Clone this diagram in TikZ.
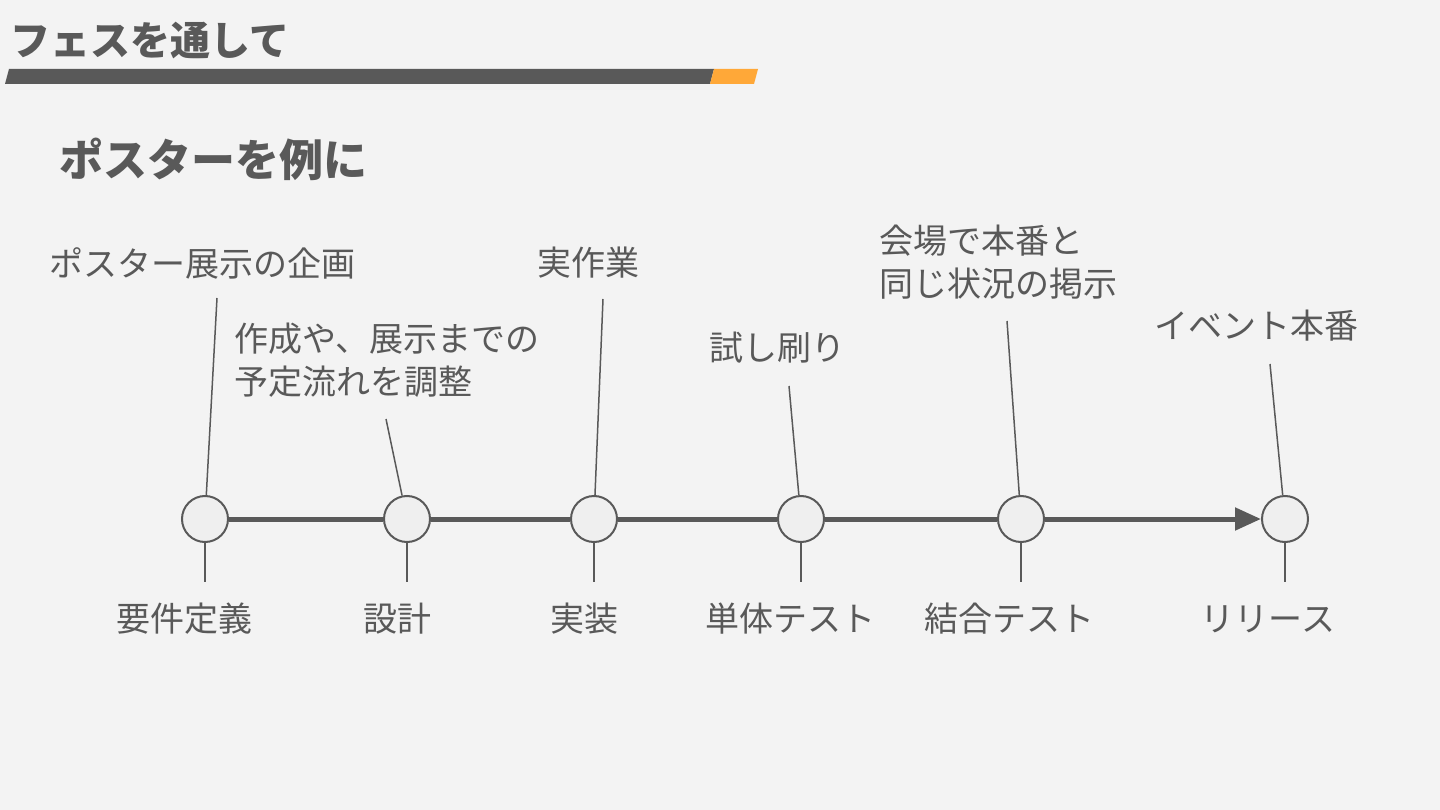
\documentclass[tikz,border=0pt]{standalone}
\usepackage{fontspec}
\setmainfont{Noto Sans CJK JP}
\usetikzlibrary{arrows.meta}
\definecolor{bg}{HTML}{F3F3F3}
\definecolor{ink}{HTML}{595959}
\definecolor{orng}{HTML}{FFA838}
\definecolor{cfill}{HTML}{EFEFEF}
\begin{document}
\begin{tikzpicture}[x=1pt,y=-1pt,
  dot/.style={circle,draw=ink,fill=cfill,line width=2pt,minimum size=46pt,inner sep=0pt},
  lbl/.style={text=ink,font=\fontsize{34}{43}\selectfont,inner sep=0pt,align=left},
  tick/.style={draw=ink,line width=1.5pt},
  axis/.style={draw=ink,line width=5pt}]
\fill[bg] (0,0) rectangle (1440,810);
\useasboundingbox (0,0) rectangle (1440,810);
% header bar
\fill[ink] (9,69) -- (714,69) -- (710,84) -- (5,84) -- cycle;
\fill[orng] (714,69) -- (758,69) -- (754,84) -- (710,84) -- cycle;
\node[text=ink,font=\fontsize{40}{44}\selectfont\bfseries,anchor=west,inner sep=0pt] (title) at (10,41) {フェスを通して};
\node[text=ink,font=\fontsize{44}{48}\selectfont\bfseries,anchor=west,inner sep=0pt] (sub) at (59,159) {ポスターを例に};
% circles
\node[dot] (c1) at (205,519) {};
\node[dot] (c2) at (407,519) {};
\node[dot] (c3) at (594,519) {};
\node[dot] (c4) at (801,519) {};
\node[dot] (c5) at (1021,519) {};
\node[dot] (c6) at (1285,519) {};
% axis
\draw[axis] (c1) -- (c2);
\draw[axis] (c2) -- (c3);
\draw[axis] (c3) -- (c4);
\draw[axis] (c4) -- (c5);
\draw[axis,-{Triangle[length=26pt,width=22pt]}] (c5) -- (c6);
% lower ticks and labels
\foreach \i/\x in {1/205,2/407,3/594,4/801,5/1021,6/1285}{
  \coordinate (b\i) at (\x,582);
  \draw[tick] (c\i) -- (b\i);
}
\node[lbl] (l1) at (184,619) {要件定義};
\node[lbl] (l2) at (397,619) {設計};
\node[lbl] (l3) at (584,619) {実装};
\node[lbl] (l4) at (790,619) {単体テスト};
\node[lbl] (l5) at (1009,619) {結合テスト};
\node[lbl] (l6) at (1268,619) {リリース};
% upper callouts
\node[lbl,anchor=west] (u1) at (49,263) {ポスター展示の企画};
\node[lbl,anchor=west] (u2) at (234,360) {作成や、展示までの\\予定流れを調整};
\node[lbl,anchor=west] (u3) at (537,263) {実作業};
\node[lbl,anchor=west] (u4) at (709,348) {試し刷り};
\node[lbl,anchor=west] (u5) at (879,262) {会場で本番と\\同じ状況の掲示};
\node[lbl,anchor=west] (u6) at (1154,326) {イベント本番};
\coordinate (t1) at (217,298);
\coordinate (t2) at (386,419);
\coordinate (t3) at (603,299);
\coordinate (t4) at (789,386);
\coordinate (t5) at (1007,321);
\coordinate (t6) at (1270,364);
\foreach \i in {1,...,6}{\draw[tick] (t\i) -- (c\i);}
\end{tikzpicture}
\end{document}
